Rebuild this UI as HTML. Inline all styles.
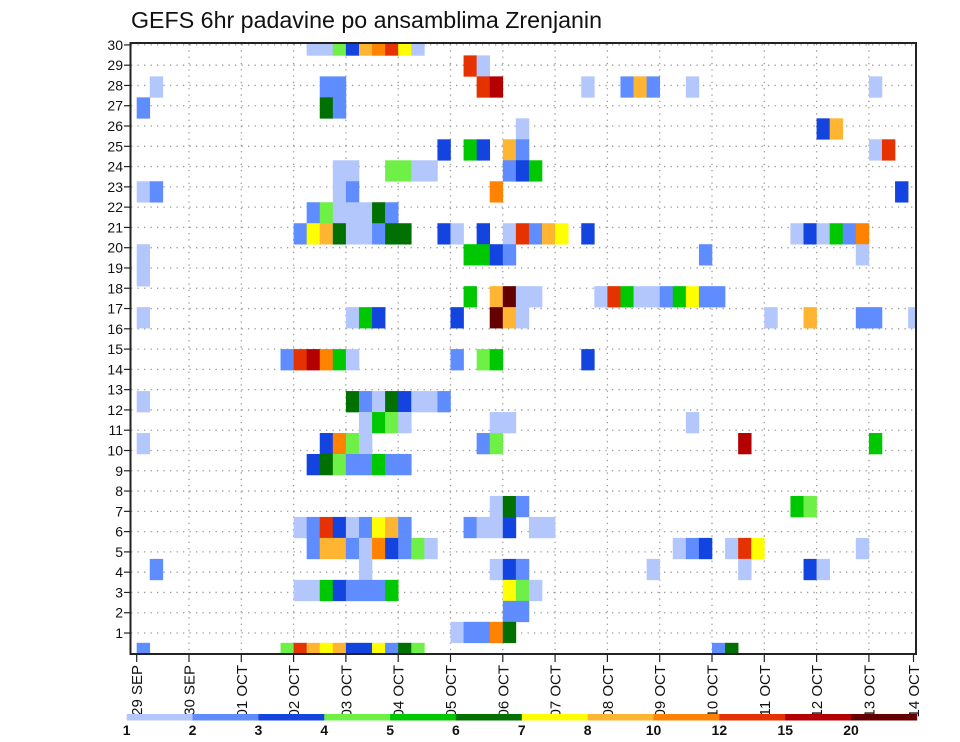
<!DOCTYPE html>
<html><head><meta charset="utf-8">
<style>
html,body{margin:0;padding:0;background:#fff;}
svg{display:block;font-family:"Liberation Sans","DejaVu Sans",sans-serif;}
</style></head>
<body>
<svg id="chart" width="960" height="742" viewBox="0 0 960 742" xmlns="http://www.w3.org/2000/svg">
<text x="131" y="28" font-size="23" textLength="471" lengthAdjust="spacingAndGlyphs" fill="#111">GEFS 6hr padavine po ansamblima Zrenjanin</text>
<g id="grid"></g>
<g id="cells" clip-path="url(#plotclip)"></g>
<defs><clipPath id="plotclip"><rect x="130.5" y="43" width="785.5" height="611"/></clipPath></defs>
<rect x="130.5" y="43" width="785.5" height="611" fill="none" stroke="#222" stroke-width="2"/>
<g id="yaxis"></g>
<g id="xaxis"></g>
<g id="cbar"></g>
</svg>
<script>
// ---- data ----
// date tick labels (one per day)
const dayLabels = ["29 SEP","30 SEP","01 OCT","02 OCT","03 OCT","04 OCT","05 OCT","06 OCT","07 OCT","08 OCT","09 OCT","10 OCT","11 OCT","12 OCT","13 OCT","14 OCT"];
// y tick labels (ensemble member axis)
const yTicks = [1,2,3,4,5,6,7,8,9,10,11,12,13,14,15,16,17,18,19,20,21,22,23,24,25,26,27,28,29,30];
// precipitation class boundaries (mm / 6h) shown on colour bar
const binLabels = ["1","2","3","4","5","6","7","8","10","12","15","20"];
// class codes a..l -> colours
const classCodes = "abcdefghijkl";
const classColors = ["#b4c7fc","#5f8cff","#1444e0","#6ef046","#00c800","#007000","#ffff00","#ffb432","#ff8200","#e63200","#b40000","#640000"];
// members, listed from top (member 29) down to bottom (member 0); entries = "6h-step:class"
const memberRows = [
 "13a,14a,15d,16c,17h,18i,19j,20g,21a",
 "25j,26a",
 "1a,14b,15b,26j,27k,34a,37b,38h,39b,42a,56a",
 "0b,14f,15b",
 "29a,52c,53h",
 "23c,25e,26c,28h,29b,56a,57j",
 "15a,16a,19d,20d,21a,22a,28b,29c,30e",
 "0a,1b,15a,16b,27i,58c",
 "13b,14d,15a,16a,17a,18f,19b",
 "12b,13g,14h,15f,16a,17a,18b,19f,20f,23c,24a,26c,28a,29j,30b,31h,32g,34c,50a,51c,52a,53e,54b,55i",
 "0a,25e,26e,27c,28b,43b,55a",
 "0a",
 "25e,27h,28l,29a,30a,35a,36j,37e,38a,39a,40b,41e,42g,43b,44b",
 "0a,16a,17e,18c,24c,27l,28h,29a,48a,51h,55b,56b,59a",
 "",
 "11b,12j,13k,14i,15e,16a,24b,26d,27e,34c",
 "",
 "0a,16f,17b,18a,19f,20c,21a,22a,23b",
 "17a,18e,19d,20a,27a,28a,42a",
 "0a,14c,15i,16d,17a,26b,27d,46k,56e",
 "13c,14f,15d,16b,17b,18e,19b,20b",
 "",
 "27a,28f,29b,50e,51d",
 "12a,13b,14j,15c,16a,17b,18g,19h,20b,25b,26a,27a,28c,30a,31a",
 "13b,14h,15h,16b,17a,18i,19c,20b,21d,22a,41a,42b,43c,45a,46j,47g,55a",
 "1b,17a,27a,28c,29b,39a,46a,51c,52a",
 "12a,13a,14e,15c,16b,17b,18b,19e,28g,29d,30a",
 "28b,29b",
 "24a,25b,26b,27i,28f",
 "0b,11d,12j,13h,14g,15h,16c,17c,18g,19b,20f,21d,44b,45f"
];
// ---- axes ----
const NS="http://www.w3.org/2000/svg";
function xScale(day){ return 136.7 + 52.3*day; }
function yScale(v){ return 653.3 - 20.28*v; }
function mk(tag, attrs, parent){ const e=document.createElementNS(NS,tag); for(const k in attrs) e.setAttribute(k,attrs[k]); parent.appendChild(e); return e; }
const grid=document.getElementById('grid'), cells=document.getElementById('cells');
const yaxis=document.getElementById('yaxis'), xaxis=document.getElementById('xaxis'), cbar=document.getElementById('cbar');
// grid lines
yTicks.forEach(v=>{
  const l=mk('line',{x1:131,x2:915,y1:yScale(v),y2:yScale(v),stroke:'#999','stroke-width':1.3,'stroke-dasharray':'1.3,5.2'},grid);
  
  
});
dayLabels.forEach((d,i)=>{
  const x=Math.min(xScale(i),913);
  if(i>0 && i<dayLabels.length-1){
    const l=mk('line',{x1:x,x2:x,y1:44,y2:653,stroke:'#999','stroke-width':1.3,'stroke-dasharray':'1.3,5'},grid);
    
    
  }
});
// cells
const cellDays = 0.25, memberStep = 30/29;
memberRows.forEach((row,k)=>{
  if(!row) return;
  const member = memberRows.length-1-k;
  const v = member*memberStep;
  row.split(',').forEach(tok=>{
    const step=parseInt(tok,10), code=tok.replace(/[0-9]/g,'');
    const x0=xScale(step*cellDays), x1=xScale((step+1)*cellDays);
    const y0=yScale(v+memberStep/2), y1=yScale(v-memberStep/2);
    const r=mk('rect',{x:x0,y:y0,width:x1-x0+0.3,height:y1-y0+0.3,fill:classColors[classCodes.indexOf(code)]},cells);
    
    
  });
});
// y axis ticks/labels
yTicks.forEach(v=>{
  const y=yScale(v);
  mk('line',{x1:124,x2:131,y1:y,y2:y,stroke:'#222','stroke-width':1.2},yaxis);
  const t=mk('text',{x:123,y:y+5,'font-size':14,'text-anchor':'end',fill:'#111'},yaxis);
  t.textContent=v;
  
  
});
// x axis ticks/labels
dayLabels.forEach((d,i)=>{
  const x=Math.min(xScale(i),913.5);
  mk('line',{x1:x,x2:x,y1:654,y2:662,stroke:'#222','stroke-width':1.2},xaxis);
  const t=mk('text',{x:0,y:0,'font-size':15,'text-anchor':'end',fill:'#111',transform:'translate('+(x+5.5)+',665) rotate(-90)'},xaxis);
  t.textContent=d;
  
  
});
// colour bar
const cbX0=126.7, cbW=65.85;
classColors.forEach((c,i)=>{
  const r=mk('rect',{x:cbX0+i*cbW,y:714,width:cbW+0.3,height:6.5,fill:c},cbar);
  
  
});
binLabels.forEach((b,i)=>{
  const t=mk('text',{x:cbX0+i*cbW,y:735,'font-size':14,'font-weight':'bold','text-anchor':'middle',fill:'#111'},cbar);
  t.textContent=b;
  
  
});
</script>
</body></html>
